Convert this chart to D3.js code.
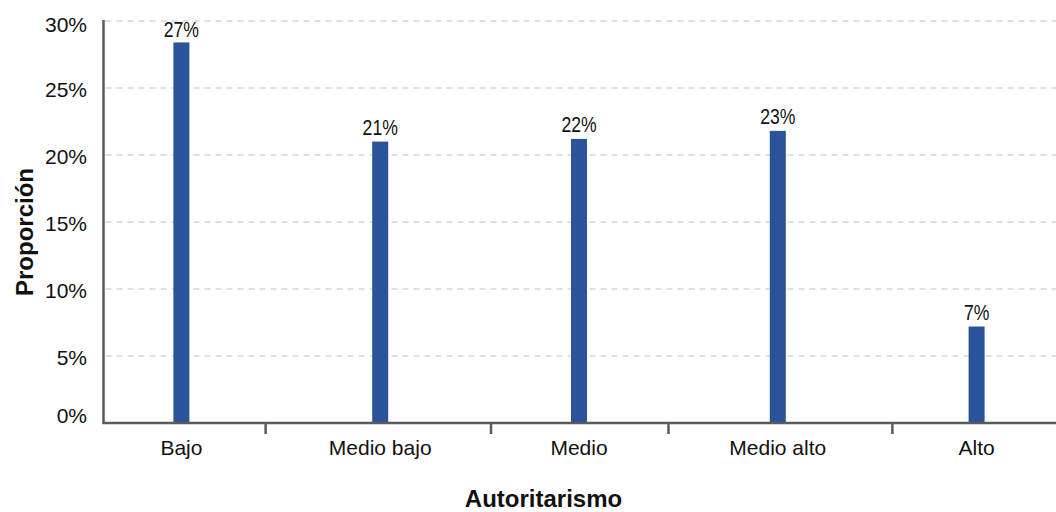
<!DOCTYPE html>
<html>
<head>
<meta charset="utf-8">
<script src="https://cdn.jsdelivr.net/npm/d3@7"></script>
<style>
  body { margin: 0; background: #fff; }
  text { fill: #111; }
</style>
</head>
<body>
<div id="chart"></div>
<script>
// data
const categories = ["Bajo", "Medio bajo", "Medio", "Medio alto", "Alto"]
const values = [28.4, 21.0, 21.2, 21.8, 7.2]          // bar heights (%)
const valueLabels = ["27%", "21%", "22%", "23%", "7%"]  // printed labels
const yTicks = [0, 5, 10, 15, 20, 25, 30]

const width = 1056
const height = 512
const axisLeft = 103.5
const plotTop = 21
const plotBottom = 423

const sans = "'Liberation Sans', Arial, sans-serif"

const svg = d3.select("#chart")
  .append("svg")
    .attr("width", width)
    .attr("height", height)

let y = d3.scaleLinear()
  .domain([0, 30])
  .range([plotBottom, plotTop])

let x = d3.scaleBand()
  .domain(categories)
  .range([82, 1076])

// gridlines
svg.append("g")
  .selectAll("line")
  .data(yTicks.filter(d => d > 0))
  .enter()
  .append("line")
    .attr("x1", axisLeft + 2)
    .attr("x2", width)
    .attr("y1", d => y(d))
    .attr("y2", d => y(d))
    .attr("stroke", "#d6d6dc")
    .attr("stroke-width", 1.5)
    .attr("stroke-dasharray", "6,5")

// y tick labels
svg.append("g")
  .selectAll("text")
  .data(yTicks)
  .enter()
  .append("text")
    .attr("x", 87)
    .attr("y", d => Math.min(Math.max(y(d) + 1.5, plotTop + 3.5), plotBottom - 7.5))
    .attr("dy", "0.36em")
    .attr("text-anchor", "end")
    .attr("font-family", sans)
    .attr("font-size", "21px")
    .text(d => d + "%")

// bars
const bw = 16
svg.append("g")
  .selectAll("rect")
  .data(values)
  .enter()
  .append("rect")
    .attr("x", (d, i) => x(categories[i]) + x.bandwidth() / 2 - bw / 2)
    .attr("y", d => y(d))
    .attr("width", bw)
    .attr("height", d => plotBottom - y(d))
    .attr("fill", "#2a539c")

// value labels (condensed look: squeeze horizontally)
svg.append("g")
  .selectAll("text")
  .data(values)
  .enter()
  .append("text")
    .attr("transform", (d, i) => "translate(" + (x(categories[i]) + x.bandwidth() / 2) + ","
      + Math.max(y(d) - 7, plotTop + 16) + ") scale(0.8,1)")
    .attr("text-anchor", "middle")
    .attr("font-family", sans)
    .attr("font-size", "22px")
    .text((d, i) => valueLabels[i])

// axes lines
svg.append("line")
  .attr("x1", axisLeft).attr("x2", axisLeft)
  .attr("y1", plotTop - 1).attr("y2", plotBottom + 1)
  .attr("stroke", "#5a5a5a")
  .attr("stroke-width", 2.5)

svg.append("line")
  .attr("x1", axisLeft - 1).attr("x2", width)
  .attr("y1", plotBottom).attr("y2", plotBottom)
  .attr("stroke", "#5a5a5a")
  .attr("stroke-width", 2.5)

// category labels
let catText = svg.append("g")
  .selectAll("text")
  .data(categories)
  .enter()
  .append("text")
    .attr("x", d => x(d) + x.bandwidth() / 2)
    .attr("y", 455)
    .attr("text-anchor", "middle")
    .attr("font-family", sans)
    .attr("font-size", "21px")
    .text(d => d)

// ticks sit halfway in the gap between neighbouring labels
let extents = []
catText.each(function(d) {
  let w = this.getComputedTextLength()
  let c = x(d) + x.bandwidth() / 2
  extents.push([c - w / 2, c + w / 2])
})
let tickPos = d3.range(1, extents.length).map(i => (extents[i - 1][1] + extents[i][0]) / 2)

svg.append("g")
  .selectAll("line")
  .data(tickPos)
  .enter()
  .append("line")
    .attr("x1", d => d).attr("x2", d => d)
    .attr("y1", plotBottom).attr("y2", plotBottom + 11)
    .attr("stroke", "#5a5a5a")
    .attr("stroke-width", 2.5)

// axis titles
svg.append("text")
  .attr("x", 543.5)
  .attr("y", 507)
  .attr("text-anchor", "middle")
  .attr("font-family", sans)
  .attr("font-weight", "bold")
  .attr("font-size", "24px")
  .text("Autoritarismo")

svg.append("text")
  .attr("transform", "translate(33,232) rotate(-90)")
  .attr("text-anchor", "middle")
  .attr("font-family", sans)
  .attr("font-weight", "bold")
  .attr("font-size", "24px")
  .text("Proporción")
</script>
</body>
</html>
